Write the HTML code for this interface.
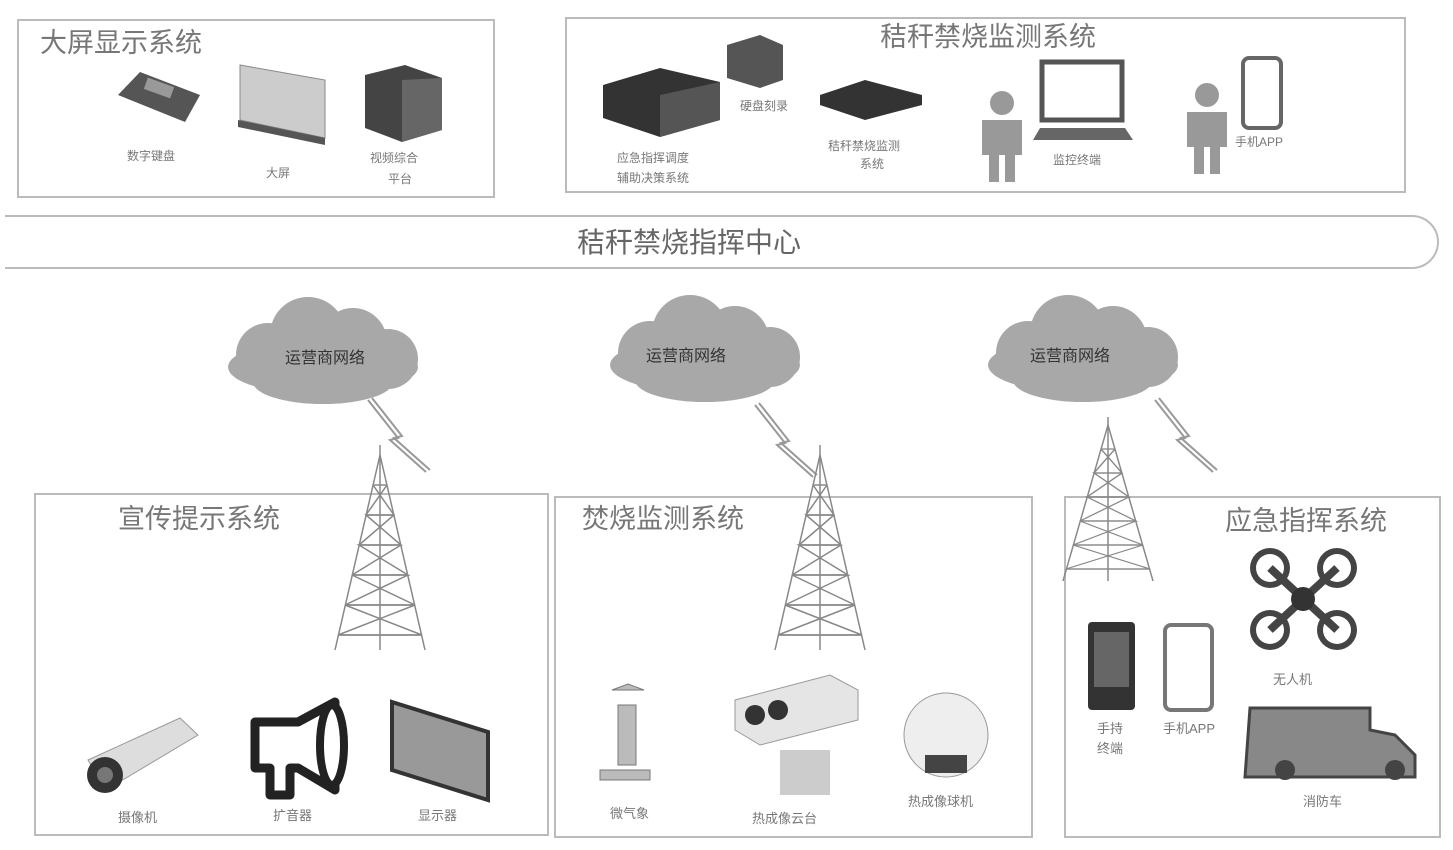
<!DOCTYPE html>
<html><head><meta charset="utf-8"><style>
body{margin:0;background:#fff;}
svg{display:block;font-family:"Liberation Sans","Noto Sans CJK SC",sans-serif;}
</style></head><body>
<svg width="1453" height="850" viewBox="0 0 1453 850" xmlns="http://www.w3.org/2000/svg">
<defs>
<g id="tower" stroke="#888" stroke-width="1.5" fill="none">
<line x1="0" y1="0" x2="-45" y2="195"/><line x1="0" y1="0" x2="45" y2="195"/><line x1="0" y1="-10" x2="0" y2="195"/>
<path d="M-7 30 L7 30 M-14 60 L14 60 M-21 90 L21 90 M-28 120 L28 120 M-35 150 L35 150 M-42 180 L42 180"/>
<path d="M-7 30 L14 60 L-14 60 L21 90 L-21 90 L28 120 L-28 120 L35 150 L-35 150 L42 180 L-42 180"/>
<path d="M7 30 L-14 60 M14 60 L-21 90 M21 90 L-28 120 M28 120 L-35 150 M35 150 L-42 180"/>
</g>
<g id="cloud" fill="#a8a8a8">
<ellipse cx="0" cy="10" rx="95" ry="28"/><circle cx="-55" cy="-2" r="32"/><circle cx="-15" cy="-22" r="38"/><circle cx="30" cy="-15" r="34"/><circle cx="65" cy="2" r="30"/><ellipse cx="0" cy="25" rx="70" ry="22"/>
</g>
<g id="bolt" fill="none" stroke="#999" stroke-width="2">
<path d="M0 0 L30 38 L22 40 L58 72"/><path d="M4 -2 L34 36 L26 38 L62 70"/>
</g>
</defs>
<g fill="none" stroke="#bbb" stroke-width="2">
<rect x="18" y="20" width="476" height="177"/>
<rect x="566" y="18" width="839" height="174"/>
<rect x="35" y="494" width="513" height="341"/>
<rect x="555" y="497" width="477" height="340"/>
<rect x="1065" y="497" width="375" height="340"/>
<path d="M5 216 L1412 216 A26 26 0 0 1 1412 268 L5 268"/>
</g>
<g fill="#777">
<text x="40" y="52" font-size="27">大屏显示系统</text>
<text x="880" y="46" font-size="27">秸秆禁烧监测系统</text>
<text x="577" y="252" font-size="28" fill="#666">秸秆禁烧指挥中心</text>
<text x="118" y="528" font-size="27">宣传提示系统</text>
<text x="582" y="528" font-size="27">焚烧监测系统</text>
<text x="1225" y="530" font-size="27">应急指挥系统</text>
</g>
<!-- top box1 icons -->
<path d="M118 95 L140 72 L200 95 L185 122 Z" fill="#555"/><rect x="145" y="82" width="28" height="12" fill="#999" transform="rotate(20 159 88)"/>
<path d="M240 65 L325 80 L325 138 L240 120 Z" fill="#ccc" stroke="#888"/><path d="M238 120 L325 138 L325 145 L238 127 Z" fill="#555"/>
<path d="M365 75 L405 65 L442 78 L442 130 L402 142 L365 128 Z" fill="#444"/><path d="M402 80 L442 78 L442 130 L402 142Z" fill="#666"/>
<g font-size="12" fill="#777">
<text x="127" y="160">数字键盘</text><text x="266" y="177">大屏</text><text x="370" y="162">视频综合</text><text x="388" y="183">平台</text>
</g>
<!-- top box2 icons -->
<path d="M603 85 L660 68 L720 82 L720 120 L660 137 L603 118 Z" fill="#333"/><path d="M660 95 L720 82 L720 120 L660 137Z" fill="#555"/>
<path d="M727 45 L760 35 L783 45 L783 80 L760 88 L727 78Z" fill="#555"/>
<path d="M820 95 L865 80 L922 95 L922 105 L865 120 L820 105Z" fill="#333"/>
<g fill="#999"><circle cx="1002" cy="103" r="12"/><path d="M982 120 h40 v35 h-7 v27 h-10 v-27 h-6 v27 h-10 v-27 h-7z"/>
<circle cx="1207" cy="95" r="12"/><path d="M1187 112 h40 v35 h-7 v27 h-10 v-27 h-6 v27 h-10 v-27 h-7z"/></g>
<rect x="1042" y="62" width="80" height="58" fill="#fff" stroke="#555" stroke-width="5"/><path d="M1040 128 h85 l8 12 h-100z" fill="#666"/>
<rect x="1243" y="58" width="38" height="70" rx="6" fill="#fff" stroke="#666" stroke-width="4"/>
<g font-size="12" fill="#777">
<text x="617" y="162">应急指挥调度</text><text x="617" y="182">辅助决策系统</text><text x="740" y="110">硬盘刻录</text>
<text x="828" y="150">秸秆禁烧监测</text><text x="860" y="168">系统</text><text x="1053" y="164">监控终端</text><text x="1235" y="146">手机APP</text>
</g>
<!-- clouds -->
<use href="#cloud" x="323" y="357"/><use href="#cloud" x="705" y="355"/><use href="#cloud" x="1083" y="355"/>
<g font-size="16" fill="#333"><text x="285" y="363">运营商网络</text><text x="646" y="361">运营商网络</text><text x="1030" y="361">运营商网络</text></g>
<use href="#bolt" x="368" y="400"/><use href="#bolt" x="755" y="405"/><use href="#bolt" x="1155" y="400"/>
<use href="#tower" x="380" y="455"/><use href="#tower" x="820" y="455"/>
<g transform="translate(1108 425) scale(1 0.8)"><use href="#tower"/></g>
<!-- bottom left icons -->
<path d="M88 760 L180 718 L198 735 L106 790Z" fill="#ddd" stroke="#999"/><circle cx="105" cy="775" r="18" fill="#333"/><circle cx="105" cy="775" r="8" fill="#777"/>
<path d="M255 722 L298 722 L335 702 L335 790 L298 768 L290 768 L290 795 L270 795 L270 768 L255 768 Z" fill="none" stroke="#222" stroke-width="9" stroke-linejoin="round"/>
<ellipse cx="332" cy="745" rx="12" ry="40" fill="#fff" stroke="#222" stroke-width="8"/>
<path d="M392 702 L488 732 L488 800 L392 770Z" fill="#999" stroke="#333" stroke-width="4"/>
<g font-size="13" fill="#777"><text x="118" y="822">摄像机</text><text x="273" y="820">扩音器</text><text x="418" y="820">显示器</text>
<text x="610" y="818">微气象</text><text x="752" y="823">热成像云台</text><text x="908" y="806">热成像球机</text>
<text x="1097" y="733">手持</text><text x="1097" y="753">终端</text><text x="1163" y="733">手机APP</text><text x="1273" y="684">无人机</text><text x="1303" y="806">消防车</text></g>
<!-- middle bottom icons -->
<g fill="#bbb" stroke="#777"><path d="M612 690 h32 l-16 -6z"/><rect x="618" y="705" width="18" height="60"/><path d="M600 770 h50 v10 h-50z"/></g>
<path d="M735 700 L830 675 L858 690 L858 720 L760 745 L735 730Z" fill="#e5e5e5" stroke="#999"/><circle cx="755" cy="715" r="10" fill="#333"/><circle cx="778" cy="710" r="10" fill="#333"/>
<path d="M780 750 h50 v45 h-50z" fill="#ccc"/>
<circle cx="946" cy="735" r="42" fill="#eee" stroke="#999"/><rect x="925" y="755" width="42" height="18" fill="#444"/>
<!-- right icons -->
<rect x="1088" y="622" width="47" height="88" rx="4" fill="#333"/><rect x="1094" y="632" width="35" height="55" fill="#666"/>
<rect x="1165" y="625" width="47" height="85" rx="6" fill="#fff" stroke="#777" stroke-width="4"/>
<g fill="#444"><circle cx="1270" cy="568" r="20"/><circle cx="1337" cy="568" r="20"/><circle cx="1270" cy="630" r="20"/><circle cx="1337" cy="630" r="20"/></g>
<g fill="#fff"><circle cx="1270" cy="568" r="14"/><circle cx="1337" cy="568" r="14"/><circle cx="1270" cy="630" r="14"/><circle cx="1337" cy="630" r="14"/></g>
<path d="M1270 568 L1337 630 M1337 568 L1270 630" stroke="#444" stroke-width="8"/><circle cx="1303" cy="599" r="12" fill="#333"/>
<path d="M1250 708 h120 v22 l25 5 l20 20 v22 h-170z" fill="#888" stroke="#444" stroke-width="3"/>
<circle cx="1285" cy="770" r="10" fill="#444"/><circle cx="1395" cy="770" r="10" fill="#444"/>
</svg>
</body></html>
